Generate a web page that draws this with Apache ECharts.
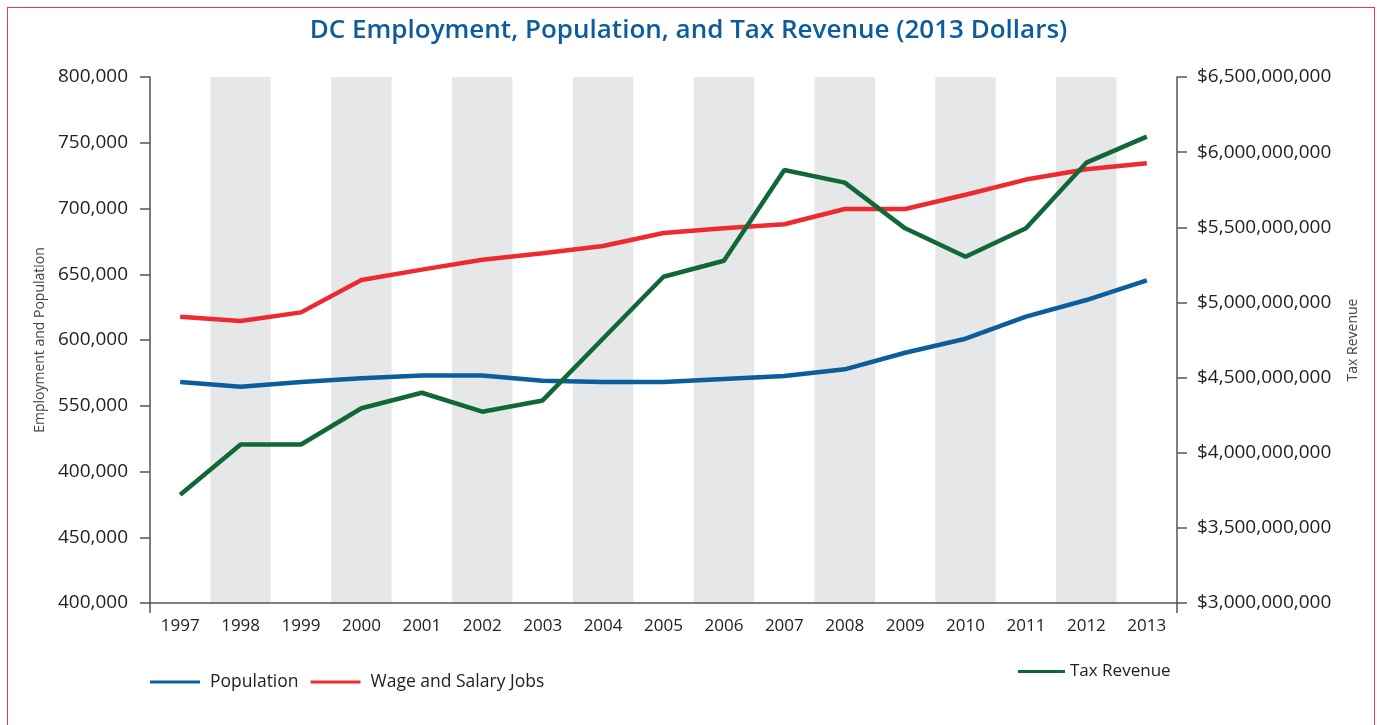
<!DOCTYPE html>
<html>
  <head>
    <meta http-equiv="Content-Type" content="text/html; charset=utf-8">
    <title>DC Employment, Population, and Tax Revenue</title>
    <style>
      html, body { margin: 0; padding: 0; background: #fff; overflow: hidden; }
      #frame { position: absolute; left: 7px; top: 7px; width: 1368px; height: 740px; border: 1px solid #ec3b44; box-sizing: border-box; }
      #chart { position: absolute; left: 0; top: 0; width: 1377px; height: 725px; }
    </style>
    <script src="https://cdn.jsdelivr.net/npm/echarts@6/dist/echarts.min.js"></script>
  </head>
  <body>
    <div id="frame"></div>
    <div id="chart"></div>
    <script type="text/javascript">
      // data
      var years = ['1997','1998','1999','2000','2001','2002','2003','2004','2005',
                   '2006','2007','2008','2009','2010','2011','2012','2013'];
      var population = [568000, 564500, 568000, 571000, 573000, 573000, 569000, 568000, 568000,
                        570400, 572600, 577700, 590300, 601000, 617800, 630400, 645400];
      var wageJobs = [617700, 614400, 621000, 645600, 653500, 661000, 666000, 671500, 681400,
                      684900, 688000, 699600, 699600, 710500, 722000, 729800, 734400];
      var taxRevenue = [3720000000, 4055000000, 4055000000, 4296000000, 4399000000, 4273000000,
                        4348000000, 4760000000, 5171000000, 5277000000, 5881000000, 5797000000,
                        5493000000, 5304000000, 5493000000, 5930000000, 6103000000];
      // left tick labels, bottom to top, as printed
      var leftTicks = ['400,000','450,000','400,000','550,000','600,000','650,000','700,000','750,000','800,000'];
      var rightTicks = ['$3,000,000,000','$3,500,000,000','$4,000,000,000','$4,500,000,000',
                        '$5,000,000,000','$5,500,000,000','$6,000,000,000','$6,500,000,000'];

      var font = '"Open Sans", "Noto Sans", sans-serif';
      var textColor = '#222';
      var axisColor = '#555';

      var myChart = echarts.init(document.getElementById('chart'));
      myChart.setOption({
        animation: false,
        textStyle: { fontFamily: font },
        title: {
          text: 'DC Employment, Population, and Tax Revenue (2013 Dollars)',
          left: 'center',
          top: 13,
          textStyle: { fontFamily: font, fontSize: 26, fontWeight: 600, color: '#0e5c9b' }
        },
        legend: [{
          data: ['Population', 'Wage and Salary Jobs'],
          left: 150,
          top: 673,
          padding: 0,
          icon: 'rect',
          itemWidth: 50,
          itemHeight: 3,
          itemGap: 12,
          textStyle: { fontFamily: font, fontSize: 17.5, color: textColor, padding: [0, 0, 0, 5] }
        }, {
          data: ['Tax Revenue'],
          left: 1018,
          top: 663,
          padding: 0,
          icon: 'rect',
          itemWidth: 47,
          itemHeight: 3,
          textStyle: { fontFamily: font, fontSize: 17, color: textColor }
        }],
        grid: { left: 150, right: 200, top: 77, bottom: 122 },
        xAxis: [{
          type: 'category',
          data: years,
          boundaryGap: true,
          position: 'bottom',
          axisLine: { lineStyle: { color: axisColor, width: 1.5 } },
          axisTick: { show: false },
          axisLabel: { interval: 0, fontSize: 17, color: textColor, margin: 15 },
          splitLine: { show: false },
          splitArea: { show: true, interval: 0, areaStyle: { color: ['rgba(0,0,0,0)', '#e6e7e8'] } }
        }, {
          // only draws the two end ticks below the axis line
          type: 'category',
          data: [''],
          boundaryGap: true,
          position: 'bottom',
          axisLine: { show: false },
          axisTick: { show: true, length: 10, lineStyle: { color: axisColor, width: 1.5 } },
          axisLabel: { show: false },
          splitLine: { show: false }
        }],
        yAxis: [{
          type: 'value',
          min: 400000,
          max: 800000,
          interval: 50000,
          name: 'Employment and Population',
          nameLocation: 'middle',
          nameGap: 103,
          nameTextStyle: { fontSize: 14, color: '#444' },
          axisLine: { show: true, lineStyle: { color: axisColor, width: 1.5 } },
          axisTick: { show: true, length: 10, lineStyle: { color: axisColor, width: 1.5 } },
          axisLabel: {
            fontSize: 19, color: textColor, margin: 22,
            formatter: function (v) { return leftTicks[Math.round((v - 400000) / 50000)]; }
          },
          splitLine: { show: false }
        }, {
          type: 'value',
          position: 'right',
          min: 3000000000,
          max: 6500000000,
          interval: 500000000,
          name: 'Tax Revenue',
          nameLocation: 'middle',
          nameGap: 169,
          nameTextStyle: { fontSize: 14, color: '#444' },
          axisLine: { show: true, lineStyle: { color: axisColor, width: 1.5 } },
          axisTick: { show: true, length: 10, lineStyle: { color: axisColor, width: 1.5 } },
          axisLabel: {
            fontSize: 19, color: textColor, margin: 20,
            formatter: function (v) { return rightTicks[Math.round((v - 3000000000) / 500000000)]; }
          },
          splitLine: { show: false }
        }],
        series: [{
          name: 'Population',
          type: 'line',
          data: population,
          yAxisIndex: 0,
          showSymbol: false,
          itemStyle: { color: '#0b5d9c' },
          lineStyle: { color: '#0b5d9c', width: 4.5 }
        }, {
          name: 'Wage and Salary Jobs',
          type: 'line',
          data: wageJobs,
          yAxisIndex: 0,
          showSymbol: false,
          itemStyle: { color: '#ee2a31' },
          lineStyle: { color: '#ee2a31', width: 4.5 }
        }, {
          name: 'Tax Revenue',
          type: 'line',
          data: taxRevenue,
          yAxisIndex: 1,
          showSymbol: false,
          itemStyle: { color: '#106836' },
          lineStyle: { color: '#106836', width: 4.5 }
        }]
      });
    </script>
  </body>
</html>
